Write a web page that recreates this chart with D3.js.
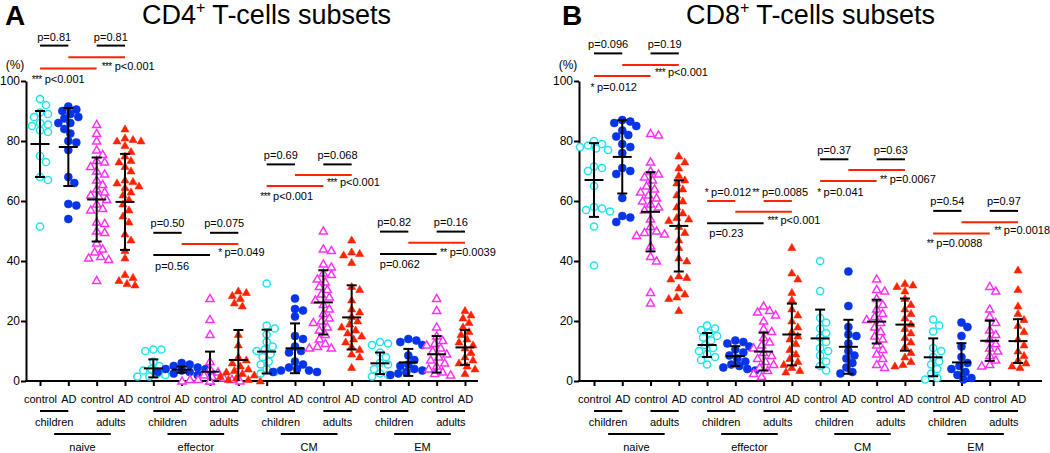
<!DOCTYPE html>
<html>
<head>
<meta charset="utf-8">
<script src="https://cdnjs.cloudflare.com/ajax/libs/d3/7.8.5/d3.min.js"></script>
<style>
  body { margin: 0; background: #fff; }
  svg { display: block; font-family: "Liberation Sans", Arial, sans-serif; }
</style>
</head>
<body>
<script>
const width = 1050;
const height = 453;

// x labels
const tickLabels = ["control", "AD", "control", "AD", "control", "AD", "control", "AD",
  "control", "AD", "control", "AD", "control", "AD", "control", "AD"];
const ageLabels = ["children", "adults"];
const subsetLabels = ["naive", "effector", "CM", "EM"];

// CD4 values (%), groups: children control, children AD, adults control, adults AD
const cd4Naive = [
  [94, 92, 89.5, 89, 88, 86, 85.5, 85, 83.5, 83, 75, 73, 68, 67, 51.5],
  [91.5, 90.5, 90, 89, 88, 87.5, 86, 86, 84, 82.5, 80, 79.5, 77, 68, 66, 59, 58.5, 54],
  [85.5, 82.5, 80, 77, 75.5, 73.5, 73, 71.5, 70, 69, 67, 65.5, 64, 63, 62, 61.5, 60.5, 59,
    57.5, 57, 53, 52.5, 50, 49.5, 46, 44, 43, 41.5, 41, 40.5, 33.5],
  [84, 81, 80.5, 80, 80, 78.5, 76.5, 75, 73.5, 73, 71.5, 70, 67, 66.5, 66, 65, 64.5, 63, 62,
    60.5, 59, 57, 55, 53, 49, 47, 43.5, 41, 35.5, 34.5, 33.5, 32.5, 32]
];
const cd4Effector = [
  [10.5, 10.5, 10, 6.5, 5, 4, 3.5, 2.5, 2, 1.5, 1.5],
  [6, 5.5, 5, 4.5, 4, 4, 3.5, 3, 3, 2.5, 2.5, 2],
  [27.5, 20.5, 15.5, 6.5, 4, 3, 2, 1.5, 1, 0.5, 0.5, 0.5, 0, 0, 0, 0, 0],
  [30, 29.5, 28.5, 27.5, 26, 25, 15.5, 12, 8, 7, 6, 5, 4, 3.5, 3, 2.5, 2, 1.5, 1, 0.5, 0.5, 0]
];
const cd4CM = [
  [32.5, 18.5, 17.5, 15.5, 13, 11.5, 10.5, 10, 9, 8, 6.5, 5.5, 4, 3, 2.5],
  [27.5, 24, 23.5, 21.5, 15, 14, 11.5, 10, 9.5, 6.5, 5.5, 4.5, 4, 3.5, 3, 3, 3.5],
  [50, 44, 43.5, 39, 38, 36, 35.5, 34, 33, 31.5, 30.5, 29, 28, 27, 25.5, 24, 22.5, 21, 20,
    19.5, 18, 17, 15.5, 14, 12.5, 11.5, 11, 11],
  [47, 43, 42.5, 42, 39.5, 31.5, 30.5, 27, 24, 23, 21.5, 20, 19, 18, 17, 16, 15, 14, 13,
    11.5, 10.5, 9, 8, 4.5]
];
const cd4EM = [
  [13, 12.5, 12, 9.5, 8, 6, 5.5, 4, 2.5, 2, 1.5],
  [14, 13.5, 13, 12, 8.5, 7, 5.5, 5, 4, 3.5, 3, 2.5, 2],
  [27.5, 23.5, 18, 15, 13.5, 12.5, 12, 11, 10, 9, 8, 7, 6, 5, 4, 3, 2.5, 2],
  [23.5, 22, 21, 19.5, 18, 16.5, 15.5, 14, 13, 12, 11, 9.5, 8, 7, 6, 5, 4, 2.5]
];
const cd4Mean = [79, 78, 60.5, 59.7, 4.2, 3.8, 3.1, 7, 9.8, 10.9, 26.2, 21.2, 5.9, 6.2, 8.9, 11.2];
const cd4Sd = [11, 13, 14, 16, 3, 1, 6.7, 10, 7.3, 8.3, 10.7, 10.7, 3.6, 4.5, 6.1, 5.8];

// CD8 values (%)
const cd8Naive = [
  [80, 79, 78.5, 78, 77.5, 77, 71.5, 71, 70, 65, 58, 57.5, 57, 56.5, 51.5, 38.5],
  [87, 86.5, 86, 85, 83.5, 82, 81.5, 79, 78, 76, 71, 70, 69, 61, 55, 54.5, 53],
  [82.5, 82, 73, 70, 69, 68, 67, 65, 64, 63, 62, 61, 60, 59, 58, 57, 54, 51.5, 50, 49.5,
    49, 48.5, 45, 41.5, 40, 29.5, 26],
  [75, 73, 71, 68.5, 67, 66, 64, 62, 60, 58, 56, 54.5, 54, 53.5, 51.5, 49.5, 47, 44.5, 41,
    40, 35, 34.5, 34, 31, 29, 28, 27.5, 23.5]
];
const cd8Effector = [
  [18.5, 17.5, 17, 16, 15, 14.5, 13.5, 12, 11, 10, 9, 8, 7, 5.5],
  [13.5, 13, 12.5, 11.5, 10.5, 9.5, 8.5, 7.5, 6.5, 5.5, 5, 4.5, 4, 3.5],
  [25, 23.5, 23, 22, 20, 17.5, 16.5, 14.5, 13, 12, 11, 9.5, 8.5, 7.5, 6.5, 5.5, 4.5, 3.5, 2.5, 1.5],
  [44.5, 36, 34, 29.5, 27, 24, 22, 20, 18, 16.5, 15, 14, 12.5, 10.5, 9, 7.5, 6.5, 5.5, 4.5, 3.5, 3]
];
const cd8CM = [
  [40, 30, 21, 19.5, 17.5, 16, 14.5, 13, 11, 10, 8.5, 6.5, 5, 3.5],
  [36.5, 25, 18, 15.5, 15, 12.5, 10, 8.5, 7.5, 6, 4.5, 3, 2.5],
  [34, 30.5, 30, 27.5, 25.5, 24, 22.5, 21.5, 20.5, 19.5, 18, 16.5, 15, 14, 12, 10.5, 9, 7.5, 5.5, 4.5],
  [32.5, 32, 31.5, 30, 27.5, 25.5, 24, 22.5, 21, 19, 17.5, 16, 14.5, 13, 11.5, 9.5, 8, 6.5, 5.5, 5]
];
const cd8EM = [
  [20.5, 18.5, 16.5, 11, 10, 8, 6.5, 5.5, 4, 2.5, 1, 0.5],
  [19.5, 18, 15, 11.5, 8, 6, 5, 4, 3, 2, 1, 0.5],
  [31.5, 30, 24, 21.5, 19.5, 17, 15.5, 14, 12.5, 11, 10, 8.5, 7, 5.5, 5],
  [37, 30.5, 25, 22.5, 20.5, 18.5, 16.5, 14, 12, 10, 8.5, 7, 6, 5, 4.5]
];
const cd8Mean = [67, 74.7, 56.4, 51.7, 12, 8.3, 9.8, 15.5, 14.2, 11.4, 19.8, 18.8, 7.9, 6.2, 13.4, 13.3];
const cd8Sd = [12.3, 12.2, 13.2, 15.2, 4, 3.3, 6.3, 10.3, 9.6, 9, 7.3, 8.7, 6.3, 6.4, 6.7, 7.3];

// comparison lines: [from group, to group, level (%), colour key]
const cd4Lines = [
  [0, 1, 111.8, "k"], [2, 3, 111.8, "k"], [1, 3, 107.9, "r"], [0, 2, 104.2, "r"],
  [4, 5, 49.4, "k"], [6, 7, 49.4, "k"], [5, 7, 45.7, "r"], [4, 6, 42, "k"],
  [8, 9, 72.2, "k"], [10, 11, 72.2, "k"], [9, 11, 68.7, "r"], [8, 10, 65, "r"],
  [12, 13, 49.8, "k"], [14, 15, 49.8, "k"], [13, 15, 46.1, "r"], [12, 14, 42.3, "k"]
];
// p-value notes: [stars, text, group position, level (%), anchor]
const cd4Notes = [
  ["", "p=0.81", 0.5, 114.7, "middle"], ["", "p=0.81", 2.5, 114.7, "middle"],
  ["***", "p<0.001", 2.18, 105, "start"], ["***", "p<0.001", -0.29, 100.7, "start"],
  ["", "p=0.50", 4.5, 52.6, "middle"], ["", "p=0.075", 6.5, 52.6, "middle"],
  ["", "p=0.56", 4.66, 38.4, "middle"], ["*", "p=0.049", 6.29, 42.9, "start"],
  ["", "p=0.69", 8.5, 75.3, "middle"], ["", "p=0.068", 10.5, 75.3, "middle"],
  ["***", "p<0.001", 10.13, 66.3, "start"], ["***", "p<0.001", 7.77, 61.7, "start"],
  ["", "p=0.82", 12.5, 52.9, "middle"], ["", "p=0.16", 14.5, 52.9, "middle"],
  ["", "p=0.062", 12.7, 39, "middle"], ["**", "p=0.0039", 14.12, 43.1, "start"]
];
const cd8Lines = [
  [0, 1, 109.2, "k"], [2, 3, 109.2, "k"], [1, 3, 105.3, "r"], [0, 2, 101.7, "r"],
  [4, 5, 60, "r"], [6, 7, 60, "r"], [5, 7, 56.4, "r"], [4, 6, 52.6, "k"],
  [8, 9, 73.9, "k"], [10, 11, 73.9, "k"], [9, 11, 70.3, "r"], [8, 10, 66.7, "r"],
  [12, 13, 56.7, "k"], [14, 15, 56.7, "k"], [13, 15, 52.9, "r"], [12, 14, 49.2, "r"]
];
const cd8Notes = [
  ["", "p=0.096", 0.5, 112.2, "middle"], ["", "p=0.19", 2.5, 112.2, "middle"],
  ["***", "p<0.001", 2.16, 102.8, "start"], ["*", "p=0.012", -0.12, 98.1, "start"],
  ["*", "p=0.012", 3.92, 63.1, "start"], ["**", "p=0.0085", 5.6, 63.1, "start"],
  ["", "p=0.23", 4.68, 49.2, "middle"], ["***", "p<0.001", 6.14, 53.7, "start"],
  ["", "p=0.37", 8.5, 77, "middle"], ["", "p=0.63", 10.5, 77, "middle"],
  ["**", "p=0.0067", 10.12, 67.3, "start"], ["*", "p=0.041", 7.9, 63.1, "start"],
  ["", "p=0.54", 12.5, 59.8, "middle"], ["", "p=0.97", 14.5, 59.8, "middle"],
  ["**", "p=0.0018", 14.16, 50.3, "start"], ["**", "p=0.0088", 11.77, 45.9, "start"]
];

const lineColour = { k: "#000", r: "#ff2200" };
// styles for the four groups in each subset
const groupStyle = [
  { shape: "circle", colour: "#1fe3ee", filled: false },
  { shape: "circle", colour: "#0634e8", filled: true },
  { shape: "triangle", colour: "#ff30f5", filled: false },
  { shape: "triangle", colour: "#ff2200", filled: true }
];

const svg = d3.select("body").append("svg")
  .attr("width", width)
  .attr("height", height);

// spread points sideways so they do not overlap (like a scatter dot plot)
function swarm(vals, y, minD, step) {
  const placed = [];
  vals.map((v) => ({ v: v, py: y(v) }))
    .sort((a, b) => a.py - b.py)
    .forEach((p) => {
      let off = 0;
      for (let k = 0; k < 30; k++) {
        const o = (k % 2 ? 1 : -1) * Math.ceil(k / 2) * step;
        if (placed.every((q) => Math.hypot(q.dx - o, q.py - p.py) >= minD)) {
          off = o;
          break;
        }
      }
      p.dx = off;
      placed.push(p);
    });
  return placed;
}

function drawPanel(o) {
  const g = svg.append("g");
  const x = d3.scalePoint().domain(d3.range(16)).range(o.xRange);
  const y = d3.scaleLinear().domain([0, 100]).range([381, 81]);
  const xi = (i) => o.xRange[0] + i * x.step();

  // letter and title
  g.append("text")
    .attr("x", o.letterX).attr("y", 25)
    .attr("font-size", 28).attr("font-weight", "bold")
    .text(o.letter);
  const t = g.append("text")
    .attr("x", o.titleX).attr("y", 24)
    .attr("font-size", 27);
  t.append("tspan").text(o.title[0]);
  t.append("tspan").attr("font-size", 16).attr("dy", -11).text("+");
  t.append("tspan").attr("dy", 11).text(o.title[1]);

  g.append("text")
    .attr("x", o.axisX0 - 11).attr("y", 65)
    .attr("dy", "0.35em")
    .attr("text-anchor", "middle")
    .attr("font-size", 12)
    .text("(%)");

  // y axis
  const yAxis = g.append("g")
    .attr("transform", `translate(${o.axisX0},0)`)
    .call(d3.axisLeft(y).tickValues([0, 20, 40, 60, 80, 100]).tickSize(5).tickSizeOuter(0));
  yAxis.select(".domain").attr("stroke-width", 2);
  yAxis.selectAll(".tick line").attr("stroke-width", 2);
  yAxis.selectAll(".tick text")
    .attr("font-family", "Liberation Sans, Arial, sans-serif")
    .attr("font-size", 12).attr("x", -6);

  // x axis
  const xAxis = g.append("g")
    .attr("transform", `translate(0,${y(0)})`)
    .call(d3.axisBottom(x).tickSize(5).tickFormat((d) => tickLabels[d]));
  xAxis.select(".domain").remove();
  xAxis.selectAll(".tick line").attr("stroke-width", 2);
  xAxis.selectAll(".tick text")
    .attr("font-family", "Liberation Sans, Arial, sans-serif")
    .attr("font-size", 11).attr("y", 18).attr("dy", "0.35em");
  g.append("line")
    .attr("x1", o.axisX0 - 1).attr("x2", o.axisX1)
    .attr("y1", y(0)).attr("y2", y(0))
    .attr("stroke", "#000").attr("stroke-width", 2);

  // age and subset labels below the axis
  for (let s = 0; s < 4; s++) {
    for (let a = 0; a < 2; a++) {
      const i0 = s * 4 + a * 2;
      g.append("line")
        .attr("x1", x(i0)).attr("x2", x(i0 + 1))
        .attr("y1", 411).attr("y2", 411)
        .attr("stroke", "#000").attr("stroke-width", 2);
      g.append("text")
        .attr("x", (x(i0) + x(i0 + 1)) / 2).attr("y", 422)
        .attr("dy", "0.35em").attr("text-anchor", "middle")
        .attr("font-size", 11)
        .text(ageLabels[a]);
    }
    const c0 = (x(s * 4) + x(s * 4 + 1)) / 2;
    const c1 = (x(s * 4 + 2) + x(s * 4 + 3)) / 2;
    g.append("line")
      .attr("x1", c0).attr("x2", c1)
      .attr("y1", 434).attr("y2", 434)
      .attr("stroke", "#000").attr("stroke-width", 2);
    g.append("text")
      .attr("x", (c0 + c1) / 2).attr("y", 447)
      .attr("dy", "0.35em").attr("text-anchor", "middle")
      .attr("font-size", 11)
      .text(subsetLabels[s]);
  }

  // points
  const groups = [].concat(...o.sets);
  const tri = d3.symbol().type(d3.symbolTriangle).size(28);
  groups.forEach((vals, i) => {
    const st = groupStyle[i % 4];
    const pts = swarm(vals, y, 7.4, 2);
    const sel = g.append("g").selectAll(".pt").data(pts).join(st.shape === "circle" ? "circle" : "path");
    if (st.shape === "circle") {
      sel.attr("cx", (d) => x(i) + d.dx).attr("cy", (d) => d.py)
        .attr("r", st.filled ? 4 : 3.6);
    } else {
      sel.attr("d", tri)
        .attr("transform", (d) => `translate(${x(i) + d.dx},${d.py + 0.6})`);
    }
    sel.attr("fill", st.filled ? st.colour : "#fff")
      .attr("stroke", st.colour)
      .attr("stroke-width", st.filled ? 0.6 : 1.5);
  });

  // mean and SD bars
  o.mean.forEach((m, i) => {
    const cx = x(i);
    const top = y(m + o.sd[i]);
    const bot = y(Math.max(0, m - o.sd[i]));
    const eb = g.append("g").attr("stroke", "#000").attr("stroke-width", 2);
    eb.append("line").attr("x1", cx).attr("x2", cx).attr("y1", top).attr("y2", bot);
    eb.append("line").attr("x1", cx - 5).attr("x2", cx + 5).attr("y1", top).attr("y2", top);
    if (m - o.sd[i] > 0) {
      eb.append("line").attr("x1", cx - 5).attr("x2", cx + 5).attr("y1", bot).attr("y2", bot);
    }
    eb.append("line").attr("x1", cx - 9.5).attr("x2", cx + 9.5).attr("y1", y(m)).attr("y2", y(m));
  });

  // comparison lines and p-values
  g.selectAll(".cmp").data(o.lines).join("line")
    .attr("x1", (d) => x(d[0])).attr("x2", (d) => x(d[1]))
    .attr("y1", (d) => y(d[2])).attr("y2", (d) => y(d[2]))
    .attr("stroke", (d) => lineColour[d[3]])
    .attr("stroke-width", 2);
  const notes = g.selectAll(".note").data(o.notes).join("text")
    .attr("x", (d) => xi(d[2])).attr("y", (d) => y(d[3]))
    .attr("dy", "0.35em")
    .attr("text-anchor", (d) => d[4])
    .attr("font-size", 11);
  notes.filter((d) => d[0]).append("tspan")
    .attr("font-size", 10)
    .attr("letter-spacing", -0.6)
    .text((d) => d[0]);
  notes.append("tspan")
    .attr("dx", (d) => (d[0] ? 3 : 0))
    .text((d) => d[1]);
}

drawPanel({
  letter: "A", letterX: 5, title: ["CD4", " T-cells subsets"], titleX: 142,
  xRange: [40, 465], axisX0: 26, axisX1: 478,
  sets: [cd4Naive, cd4Effector, cd4CM, cd4EM],
  mean: cd4Mean, sd: cd4Sd, lines: cd4Lines, notes: cd4Notes
});

drawPanel({
  letter: "B", letterX: 562, title: ["CD8", " T-cells subsets"], titleX: 686,
  xRange: [594, 1018], axisX0: 579, axisX1: 1042,
  sets: [cd8Naive, cd8Effector, cd8CM, cd8EM],
  mean: cd8Mean, sd: cd8Sd, lines: cd8Lines, notes: cd8Notes
});
</script>
</body>
</html>
